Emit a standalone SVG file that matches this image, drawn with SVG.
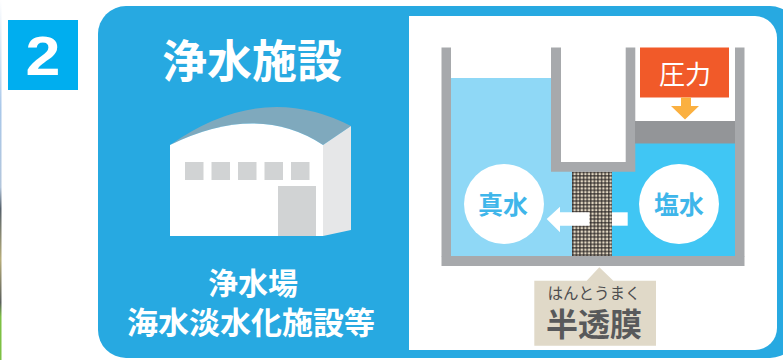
<svg xmlns="http://www.w3.org/2000/svg" width="783" height="360" viewBox="0 0 783 360">
  <style>
    .jp { font-family: "Noto Sans CJK JP", "Noto Sans CJK SC", sans-serif; text-anchor: middle; }
    .white { fill: #ffffff; }
    .wall { fill: #a7a9ac; }
    .bubble { fill: #ffffff; }
    .bubble-text { fill: #3fb6ea; font-weight: 700; font-size: 25px; }
  </style>
  <defs>
    <pattern id="mesh" x="572" y="171.5" width="3.6" height="3.6" patternUnits="userSpaceOnUse">
      <rect width="3.6" height="3.6" fill="#e2d7c2"/>
      <rect x="0" y="0" width="1.5" height="3.6" fill="#231f20" opacity="0.7"/>
      <rect x="0" y="0" width="3.6" height="1.5" fill="#231f20" opacity="0.7"/>
    </pattern>
    <linearGradient id="edge" x1="0" y1="0" x2="0" y2="1">
      <stop offset="0" stop-color="#ffffff"/>
      <stop offset="0.3" stop-color="#a9c8ea"/>
      <stop offset="0.52" stop-color="#b3c6dc"/>
      <stop offset="0.58" stop-color="#55606a"/>
      <stop offset="0.72" stop-color="#b8ae7a"/>
      <stop offset="0.84" stop-color="#5a5f5c"/>
      <stop offset="0.88" stop-color="#7dc043"/>
      <stop offset="1" stop-color="#7dc043"/>
    </linearGradient>
  </defs>

  <rect width="783" height="360" fill="#ffffff"/>
  <rect x="0" y="0" width="1.5" height="360" fill="url(#edge)"/>

  <!-- step number badge -->
  <g id="badge">
    <rect x="8" y="20" width="70" height="70" fill="#00aeef"/>
    <text x="43" y="75" font-family="Liberation Sans, Arial, sans-serif" font-weight="700" font-size="56" fill="#ffffff" text-anchor="middle" transform="translate(43 0) scale(1.12 1) translate(-43 0)">2</text>
  </g>

  <!-- blue panel -->
  <g id="panel">
    <rect x="98" y="6" width="700" height="352" rx="28" ry="28" fill="#27a9e1"/>
    <path d="M409 16 H755 A22 22 0 0 1 777 38 V328 A22 22 0 0 1 755 350 H409 Z" fill="#ffffff"/>
  </g>

  <!-- facility -->
  <g id="facility">
    <text class="jp white" x="252" y="78" font-size="45" font-weight="700">浄水施設</text>
    <g id="building">
      <path d="M170 145 Q258 102 323 145 L351 126 Q262 80 170 145 Z" fill="#7fa9bd"/>
      <path d="M323 145 L351 126 V230 L323 236 Z" fill="#e6e7e8"/>
      <path d="M170 145 Q258 102 323 145 V236 H170 Z" fill="#ffffff"/>
      <g fill="#d1d3d4">
        <rect x="185" y="162" width="18.5" height="18"/>
        <rect x="211.5" y="162" width="18.5" height="18"/>
        <rect x="238" y="162" width="18.5" height="18"/>
        <rect x="264.5" y="162" width="18.5" height="18"/>
        <rect x="291" y="162" width="18.5" height="18"/>
        <rect x="278" y="186" width="38" height="50"/>
      </g>
    </g>
    <text class="jp white" x="253" y="294" font-size="30" font-weight="700">浄水場</text>
    <text class="jp white" x="251" y="334" font-size="31" font-weight="700">海水淡水化施設等</text>
  </g>

  <!-- reverse osmosis apparatus -->
  <g id="apparatus">
    <!-- water -->
    <rect x="451" y="78" width="100" height="178" fill="#8fd8f6"/>
    <rect x="551" y="171" width="21" height="85" fill="#8fd8f6"/>
    <rect x="612" y="171" width="123" height="85" fill="#40c6f4"/>
    <rect x="635" y="143" width="100" height="30" fill="#40c6f4"/>
    <!-- membrane -->
    <rect x="572" y="171.5" width="40" height="84.5" fill="url(#mesh)"/>
    <!-- walls -->
    <rect class="wall" x="441.5" y="47.5" width="9.5" height="209"/>
    <rect class="wall" x="735" y="47.5" width="9.5" height="209"/>
    <rect class="wall" x="441.5" y="256" width="303" height="10"/>
    <path class="wall" d="M551 47.5 H561 V162 H625.7 V47.5 H635.3 V171.7 H551 Z"/>
    <!-- piston -->
    <rect x="635" y="121" width="100" height="22.5" fill="#939598"/>
  </g>

  <g id="pressure">
    <rect x="640" y="47.5" width="89" height="50" fill="#f15a29"/>
    <text class="jp white" x="685" y="84" font-size="26">圧力</text>
    <path d="M681 97.5 H691 V106 H699 L685 119.5 L671 106 H681 Z" fill="#fbb040"/>
  </g>

  <g id="fresh">
    <circle class="bubble" cx="504" cy="204" r="40"/>
    <text class="jp bubble-text" x="503" y="214">真水</text>
  </g>
  <g id="salt">
    <circle class="bubble" cx="679" cy="204" r="40"/>
    <text class="jp bubble-text" x="679" y="214">塩水</text>
  </g>

  <!-- flow through the membrane -->
  <g id="connectors">
    <path d="M589.5 212.3 V225.7 H560 V232.3 L546.7 219 L560 206.7 V212.3 Z" fill="#ffffff"/>
    <rect x="612" y="212.3" width="15.7" height="13.4" fill="#ffffff"/>
  </g>

  <g id="membrane-label">
    <path d="M534.3 280.7 H586.7 L599.3 267.3 L613.3 280.7 H656 V345.7 H534.3 Z" fill="#e0d9c8"/>
    <text class="jp" x="594" y="299" font-size="15.5" fill="#4d4d4f">はんとうまく</text>
    <text class="jp" x="594" y="336" font-size="32" font-weight="700" fill="#58595b">半透膜</text>
  </g>
</svg>
